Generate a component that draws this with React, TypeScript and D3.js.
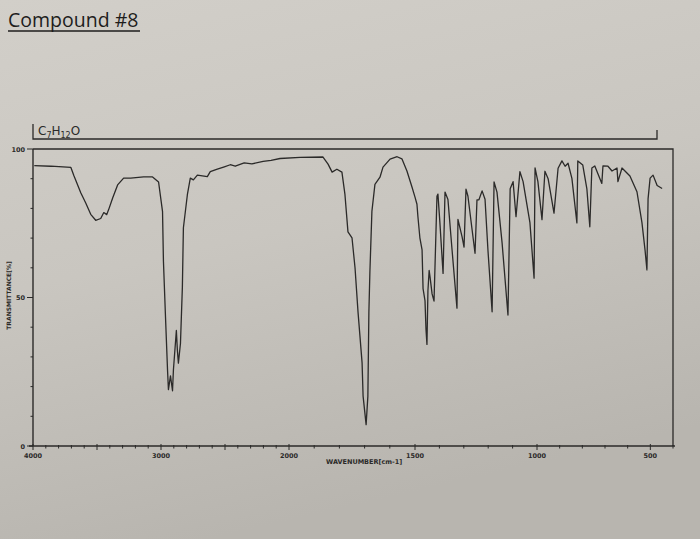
import React from "react";
import * as d3 from "d3";

// IR spectrum of Compound #8 (C7H12O) — wavenumber (cm-1) vs transmittance (%)
const wavenumbers = [
  3990, 3860, 3704, 3681, 3626, 3588, 3549, 3510, 3471, 3447, 3424, 3409, 3377, 3339, 3292, 3237,
  3136, 3066, 3019, 2988, 2981, 2965, 2949, 2942, 2926, 2910, 2903, 2880, 2872, 2864, 2848, 2833,
  2825, 2794, 2771, 2747, 2716, 2638, 2615, 2560, 2505, 2459, 2420, 2350, 2290, 2202, 2140, 2070,
  1956, 1865, 1845, 1829, 1810, 1790, 1778, 1766, 1750, 1738, 1726, 1710, 1706, 1694, 1687, 1683,
  1679, 1671, 1659, 1639, 1627, 1599, 1571, 1552, 1532, 1512, 1500, 1492, 1488, 1480, 1471, 1467,
  1459, 1455, 1451, 1447, 1442, 1438, 1430, 1422, 1410, 1406, 1398, 1385, 1377, 1365, 1348, 1328,
  1324, 1307, 1299, 1291, 1283, 1266, 1254, 1246, 1238, 1225, 1213, 1201, 1184, 1176, 1164, 1143,
  1119, 1110, 1098, 1086, 1070, 1057, 1029, 1012, 1008, 996, 978, 965, 951, 925, 907, 890, 876,
  863, 846, 824, 820, 798, 780, 767, 758, 745, 714, 709, 687, 669, 647, 643, 625, 590, 559, 537,
  523, 515, 510, 501, 488, 470, 448,
];
const transmittance = [
  94.4, 94.2, 93.8, 91.1, 85.2, 81.8, 78.0, 76.0, 76.6, 78.6, 77.9, 79.6, 83.6, 87.9, 90.2, 90.2,
  90.6, 90.6, 88.9, 78.9, 62.3, 43.6, 25.6, 19.0, 23.6, 18.6, 25.6, 38.9, 32.2, 27.9, 34.5, 53.5,
  73.5, 84.6, 90.2, 89.6, 91.2, 90.7, 92.4, 93.2, 94.0, 94.7, 94.2, 95.3, 95.0, 95.8, 96.2, 96.8,
  97.2, 97.3, 94.9, 92.2, 93.2, 92.2, 84.7, 72.1, 70.1, 60.0, 45.0, 28.0, 16.8, 7.2, 16.8, 45.0,
  58.6, 79.0, 88.1, 90.5, 93.9, 96.6, 97.4, 96.7, 92.6, 87.2, 83.8, 81.4, 77.2, 70.1, 66.0, 53.0,
  48.9, 39.3, 34.2, 52.3, 59.1, 56.7, 51.2, 48.8, 84.1, 84.8, 75.2, 58.1, 85.5, 83.0, 65.9, 46.4,
  76.3, 70.4, 67.0, 86.5, 84.1, 72.8, 64.9, 82.9, 82.9, 85.9, 83.1, 65.9, 45.2, 88.9, 85.5, 68.3,
  44.1, 86.6, 89.0, 77.2, 92.4, 89.0, 75.2, 56.5, 93.6, 89.0, 76.2, 92.5, 90.0, 78.4, 93.5, 96.0, 94.2,
  95.2, 90.1, 75.1, 96.0, 94.6, 86.6, 73.8, 93.6, 94.3, 88.4, 94.3, 94.2, 92.6, 93.6, 89.0, 93.6, 90.9, 85.6, 75.2,
  65.7, 59.3, 83.2, 90.2, 91.2, 87.7, 86.7,
];
const xTickLabels = [4000, 3000, 2000, 1500, 1000, 500];
const yTickLabels = [0, 50, 100];
const formulaParts = [
  { t: "C", sub: false },
  { t: "7", sub: true },
  { t: "H", sub: false },
  { t: "12", sub: true },
  { t: "O", sub: false },
];

const W = 700;
const H = 539;
const left = 33;
const right = 673;
const top = 149;
const bottom = 446;

export default function App() {
  const x = d3
    .scaleLinear()
    .domain([4000, 2000, 1500, 1000, 400])
    .range([left, 289, 415, 537, right]);
  const y = d3.scaleLinear().domain([0, 100]).range([bottom, top]);

  const pts: [number, number][] = wavenumbers.map((w, i) => [w, transmittance[i]]);
  const line = d3
    .line<[number, number]>()
    .x((d) => x(d[0]))
    .y((d) => y(d[1]));

  const minor = d3.range(4000, 399, -100);
  const yMinor = d3.range(0, 101, 10);
  const ink = "#2b2a29";

  return (
    <svg
      width={W}
      height={H}
      style={{ position: "fixed", left: 0, top: 0, display: "block" }}
    >
      <defs>
        <linearGradient id="paper" x1="0" y1="0" x2="0.3" y2="1">
          <stop offset="0" stopColor="#d2cfc9" />
          <stop offset="0.5" stopColor="#c9c6c0" />
          <stop offset="1" stopColor="#b8b5af" />
        </linearGradient>
      </defs>
      <rect x={0} y={0} width={W} height={H} fill="url(#paper)" />

      {/* title */}
      <text
        x={8}
        y={27}
        fontFamily="'Open Sans', sans-serif"
        fontSize={19.5}
        fill="#1e1d1c"
      >
        Compound #8
      </text>
      <line x1={8} x2={140} y1={31} y2={31} stroke="#1e1d1c" strokeWidth={1.5} />

      {/* formula bracket */}
      <path
        d={`M${left},124 L${left},139 L657,139 L657,130`}
        fill="none"
        stroke={ink}
        strokeWidth={1.3}
      />
      <text x={38} y={135} fontFamily="'DejaVu Sans', sans-serif" fontSize={12} fill={ink}>
        {formulaParts.map((p, i) => (
          <tspan key={i} fontSize={p.sub ? 8 : 12} dy={p.sub ? 3 : i > 0 && formulaParts[i - 1].sub ? -3 : 0}>
            {p.t}
          </tspan>
        ))}
      </text>

      {/* frame */}
      <path
        d={`M${left},${top} L${right},${top} L${right},${bottom}`}
        fill="none"
        stroke={ink}
        strokeWidth={1.3}
      />
      <line x1={left} x2={left} y1={top} y2={bottom} stroke={ink} strokeWidth={1.4} />
      <line x1={left - 4} x2={right + 2} y1={bottom} y2={bottom} stroke={ink} strokeWidth={1.4} />

      {/* y ticks */}
      {yMinor.map((v) => (
        <line
          key={v}
          x1={left - (v % 50 === 0 ? 6 : 2.5)}
          x2={left}
          y1={y(v)}
          y2={y(v)}
          stroke={ink}
          strokeWidth={1}
        />
      ))}
      {yTickLabels.map((v) => (
        <text
          key={v}
          x={left - 8}
          y={y(v) + 2.5}
          textAnchor="end"
          fontFamily="'DejaVu Sans', sans-serif"
          fontSize={6.5}
          fontWeight="bold"
          fill={ink}
        >
          {v}
        </text>
      ))}
      <text
        transform={`translate(11,${(top + bottom) / 2 - 2}) rotate(-90)`}
        textAnchor="middle"
        fontFamily="'DejaVu Sans', sans-serif"
        fontSize={6}
        fontWeight="bold"
        fill={ink}
      >
        TRANSMITTANCE[%]
      </text>

      {/* x ticks */}
      {minor.map((v) => (
        <line
          key={v}
          x1={x(v)}
          x2={x(v)}
          y1={bottom - (v % 500 === 0 ? 2 : 1)}
          y2={bottom + (v % 500 === 0 ? 4 : 2.5)}
          stroke={ink}
          strokeWidth={1}
        />
      ))}
      {xTickLabels.map((v) => (
        <text
          key={v}
          x={x(v)}
          y={bottom + 12}
          textAnchor="middle"
          fontFamily="'DejaVu Sans', sans-serif"
          fontSize={6.5}
          fontWeight="bold"
          fill={ink}
        >
          {v}
        </text>
      ))}
      <text
        x={326}
        y={bottom + 18}
        fontFamily="'DejaVu Sans', sans-serif"
        fontSize={6.5}
        fontWeight="bold"
        fill={ink}
      >
        WAVENUMBER[cm-1]
      </text>

      {/* spectrum */}
      <path
        d={line(pts) || ""}
        fill="none"
        stroke={ink}
        strokeWidth={1.3}
        strokeLinejoin="round"
      />
    </svg>
  );
}
